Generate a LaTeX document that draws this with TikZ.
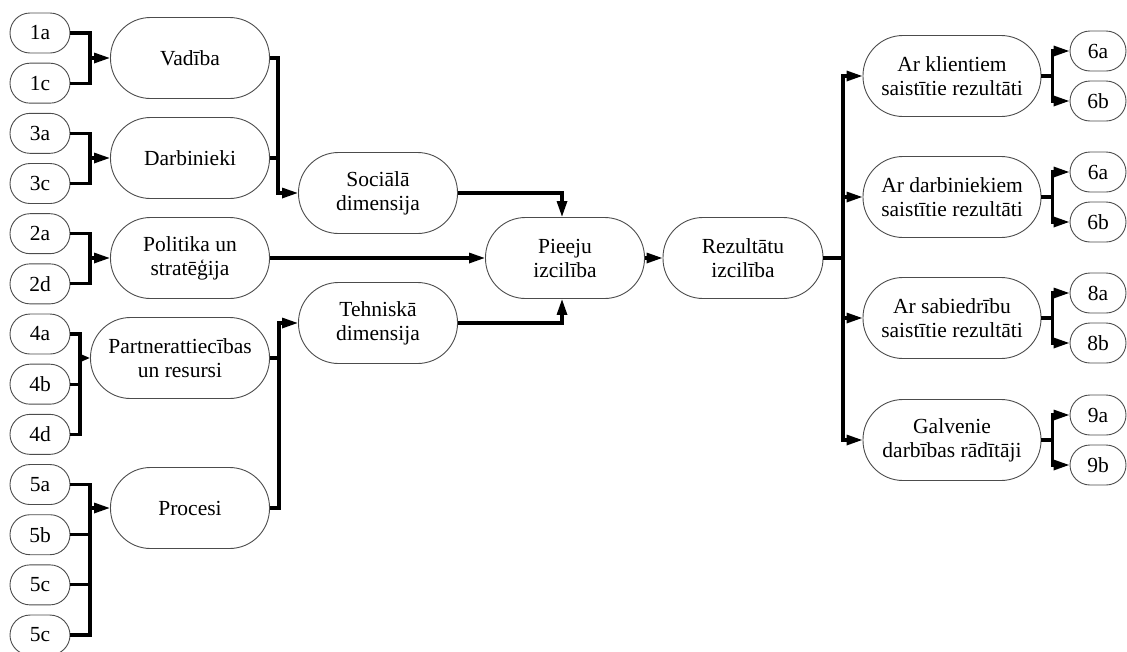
\documentclass[tikz,border=0pt]{standalone}
\usepackage{fontspec}
\setmainfont{Liberation Serif}
\usetikzlibrary{arrows.meta}
\begin{document}
\begin{tikzpicture}[x=1pt,y=-1pt,
  box/.style={draw=black!70, line width=0.9pt, fill=white, align=center, inner sep=0pt,
    font=\fontsize{21.5}{24}\selectfont},
  leaf/.style={box, minimum width=60pt, minimum height=40pt, rounded corners=20pt},
  rleaf/.style={box, minimum width=56pt, minimum height=40pt, rounded corners=20pt},
  mid/.style={box, minimum width=159pt, minimum height=81pt, rounded corners=40pt},
  wire/.style={line width=3.1pt, line join=miter, line cap=butt},
  arrow/.style={wire, -{Triangle[length=16pt,width=10pt]}},
  shortarrow/.style={wire, -{Triangle[length=8pt,width=6pt]}}]
\useasboundingbox (0,0) rectangle (1127,651);

% criteria leaves on the left
\foreach \n/\t [count=\k from 0] in {l1a/1a,l1c/1c,l3a/3a,l3c/3c,l2a/2a,l2d/2d,l4a/4a,l4b/4b,l4d/4d,l5a/5a,l5b/5b,l5c/5c,l5d/5c}
  \node[leaf] (\n) at (40,{33+50.17*\k}) {\t};

% enablers
\node[mid] (vad) at (190,58) {Vadība};
\node[mid] (darb) at (190,158) {Darbinieki};
\node[mid] (pol) at (190,258) {Politika un\\stratēģija};
\node[mid, minimum width=179pt] (part) at (180,358) {Partnerattiecības\\un resursi};
\node[mid] (proc) at (190,508) {Procesi};

% dimensions
\node[mid] (soc) at (378,193) {Sociālā\\dimensija};
\node[mid] (teh) at (378,323) {Tehniskā\\dimensija};

% excellence
\node[mid] (pie) at (565,258) {Pieeju\\izcilība};
\node[mid, minimum width=160pt] (rez) at (743,258) {Rezultātu\\izcilība};

% results
\node[mid, minimum width=178pt] (r1) at (952,76) {Ar klientiem\\saistītie rezultāti};
\node[mid, minimum width=178pt] (r2) at (952,197) {Ar darbiniekiem\\saistītie rezultāti};
\node[mid, minimum width=178pt] (r3) at (952,318) {Ar sabiedrību\\saistītie rezultāti};
\node[mid, minimum width=178pt] (r4) at (952,440) {Galvenie\\darbības rādītāji};

% result leaves on the right
\node[rleaf] (q1a) at (1098,51) {6a};
\node[rleaf] (q1b) at (1098,101) {6b};
\node[rleaf] (q2a) at (1098,172) {6a};
\node[rleaf] (q2b) at (1098,222) {6b};
\node[rleaf] (q3a) at (1098,293) {8a};
\node[rleaf] (q3b) at (1098,343) {8b};
\node[rleaf] (q4a) at (1098,415) {9a};
\node[rleaf] (q4b) at (1098,465) {9b};

% bus junctions
\coordinate (b1) at (90,58);
\coordinate (b3) at (90,158);
\coordinate (b2) at (90,258);
\coordinate (b4) at (80,358);
\coordinate (b5) at (90,508);
\coordinate (bs) at (278,193);
\coordinate (bt) at (279,323);
\coordinate (br) at (843,258);

% leaves into enablers
\draw[wire] (l1a.east) -| (b1) |- (l1c.east);
\draw[arrow] (b1) -- (vad.west);
\draw[wire] (l3a.east) -| (b3) |- (l3c.east);
\draw[arrow] (b3) -- (darb.west);
\draw[wire] (l2a.east) -| (b2) |- (l2d.east);
\draw[arrow] (b2) -- (pol.west);
\draw[wire] (l4a.east) -| (b4) |- (l4d.east);
\draw[wire] (l4b.east) -- (l4b.east -| b4);
\draw[shortarrow] (b4) -- (part.west);
\draw[wire] (l5a.east) -| (b5 |- l5d.east) -- (l5d.east);
\draw[wire] (l5b.east) -- (l5b.east -| b5);
\draw[wire] (l5c.east) -- (l5c.east -| b5);
\draw[arrow] (b5) -- (proc.west);

% enablers into dimensions
\draw[arrow] (vad.east) -| (bs) -- (soc.west);
\draw[wire] (darb.east) -- (darb.east -| bs);
\draw[arrow] (proc.east) -| (bt) -- (teh.west);
\draw[wire] (part.east) -- (part.east -| bt);

% dimensions into approach excellence
\draw[arrow] (soc.east) -| ([xshift=-3pt]pie.north);
\draw[arrow] (teh.east) -| ([xshift=-3pt]pie.south);
\draw[arrow] (pol.east) -- (pie.west);
\draw[arrow] (pie.east) -- (rez.west);

% results fan-out
\draw[wire] (rez.east) -- (br);
\draw[arrow] (br) |- (r1.west);
\draw[arrow] (br) |- (r2.west);
\draw[arrow] (br) |- (r3.west);
\draw[arrow] (br) |- (r4.west);

\foreach \r/\a/\b in {r1/q1a/q1b, r2/q2a/q2b, r3/q3a/q3b, r4/q4a/q4b}{
  \draw[arrow] (\r.east) -- ++(11,0) |- (\a.west);
  \draw[arrow] (\r.east) -- ++(11,0) |- (\b.west);
}
\end{tikzpicture}
\end{document}
